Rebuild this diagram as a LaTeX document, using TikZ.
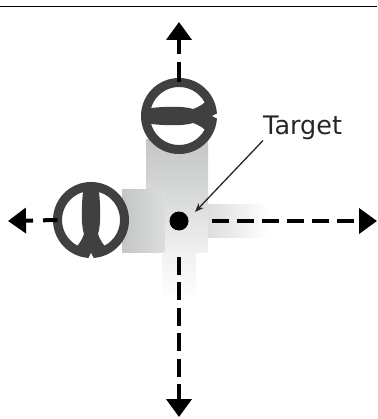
\documentclass[tikz,border=0pt]{standalone}
\usepackage{fontspec}
\setmainfont{DejaVu Sans}
\usetikzlibrary{arrows.meta}
\definecolor{valvegray}{RGB}{64,64,64}
\definecolor{shadowgray}{RGB}{196,198,198}
\tikzset{
  valve/.style={circle,draw=valvegray,fill=white,line width=9pt,
                minimum size=67pt,inner sep=0pt,outer sep=0pt},
  dot/.style={circle,fill=black,minimum size=19pt,inner sep=0pt,outer sep=0pt},
  label text/.style={font=\fontsize{25.5}{25.5}\selectfont,text=black!85,inner sep=0pt},
  beam/.style={-{Triangle[length=18pt,width=25pt]},line width=4pt,black},
  pointer/.style={-{Stealth[length=9pt,width=7pt]},line width=1.3pt,black!85},
  valve bar/.pic={
    \fill[valvegray] (-36,-7) .. controls (-15,-10) and (5,-10) .. (14,-7)
      .. controls (20,-9) and (25,-12) .. (31,-19) -- (31,19)
      .. controls (25,12) and (20,9) .. (14,7)
      .. controls (5,10) and (-15,10) .. (-36,7) -- cycle;
    \fill[white] (39,-3) -- (33,0) -- (39,3) -- cycle;
  },
}

\begin{document}
\begin{tikzpicture}[x=1pt,y=-1pt]
  \useasboundingbox (0,0) rectangle (377,419);

  % shadows
  \shade[top color=shadowgray,bottom color=shadowgray!60] (146,140) rectangle (208,205);
  \shade[left color=shadowgray,right color=shadowgray!60] (122,190) rectangle (165,252);
  \shade[top color=shadowgray!60,bottom color=shadowgray!25] (165,205) rectangle (208,252);
  \shade[left color=shadowgray!60,right color=white] (208,205) rectangle (268,237);
  \shade[top color=shadowgray!25,bottom color=white] (162,252) rectangle (196,300);

  \node[valve] (upper) at (179,116) {};
  \node[valve] (lower) at (91,220) {};
  \pic at (179,116) {valve bar};
  \pic[rotate=-90] at (91,220) {valve bar};
  \node[dot] (target) at (179,221) {};

  \coordinate (rulea) at (0,7);
  \coordinate (ruleb) at (377,7);
  \coordinate (uptip) at (179,22);
  \coordinate (lefttip) at (8,221);
  \coordinate (righttip) at (377,221);
  \coordinate (downtip) at (179,417);
  \coordinate (pointertip) at (195,212);

  \draw[line width=1pt,black] (rulea) -- (ruleb);
  \draw[beam,dash pattern=on 20pt off 8pt] (upper.north) -- (uptip);
  \draw[beam,dash pattern=on 14.5pt off 10pt] (lower.west) -- (lefttip);
  \draw[beam,dash pattern=on 17pt off 8pt,shorten <=23.5pt] (target.east) -- (righttip);
  \draw[beam,dash pattern=on 18pt off 7.4pt,shorten <=26.5pt] (target.south) -- (downtip);

  \node[label text,anchor=base west] (targetlabel) at (263,135) {Target};
  \draw[pointer] (targetlabel.south west) -- (pointertip);
\end{tikzpicture}
\end{document}
